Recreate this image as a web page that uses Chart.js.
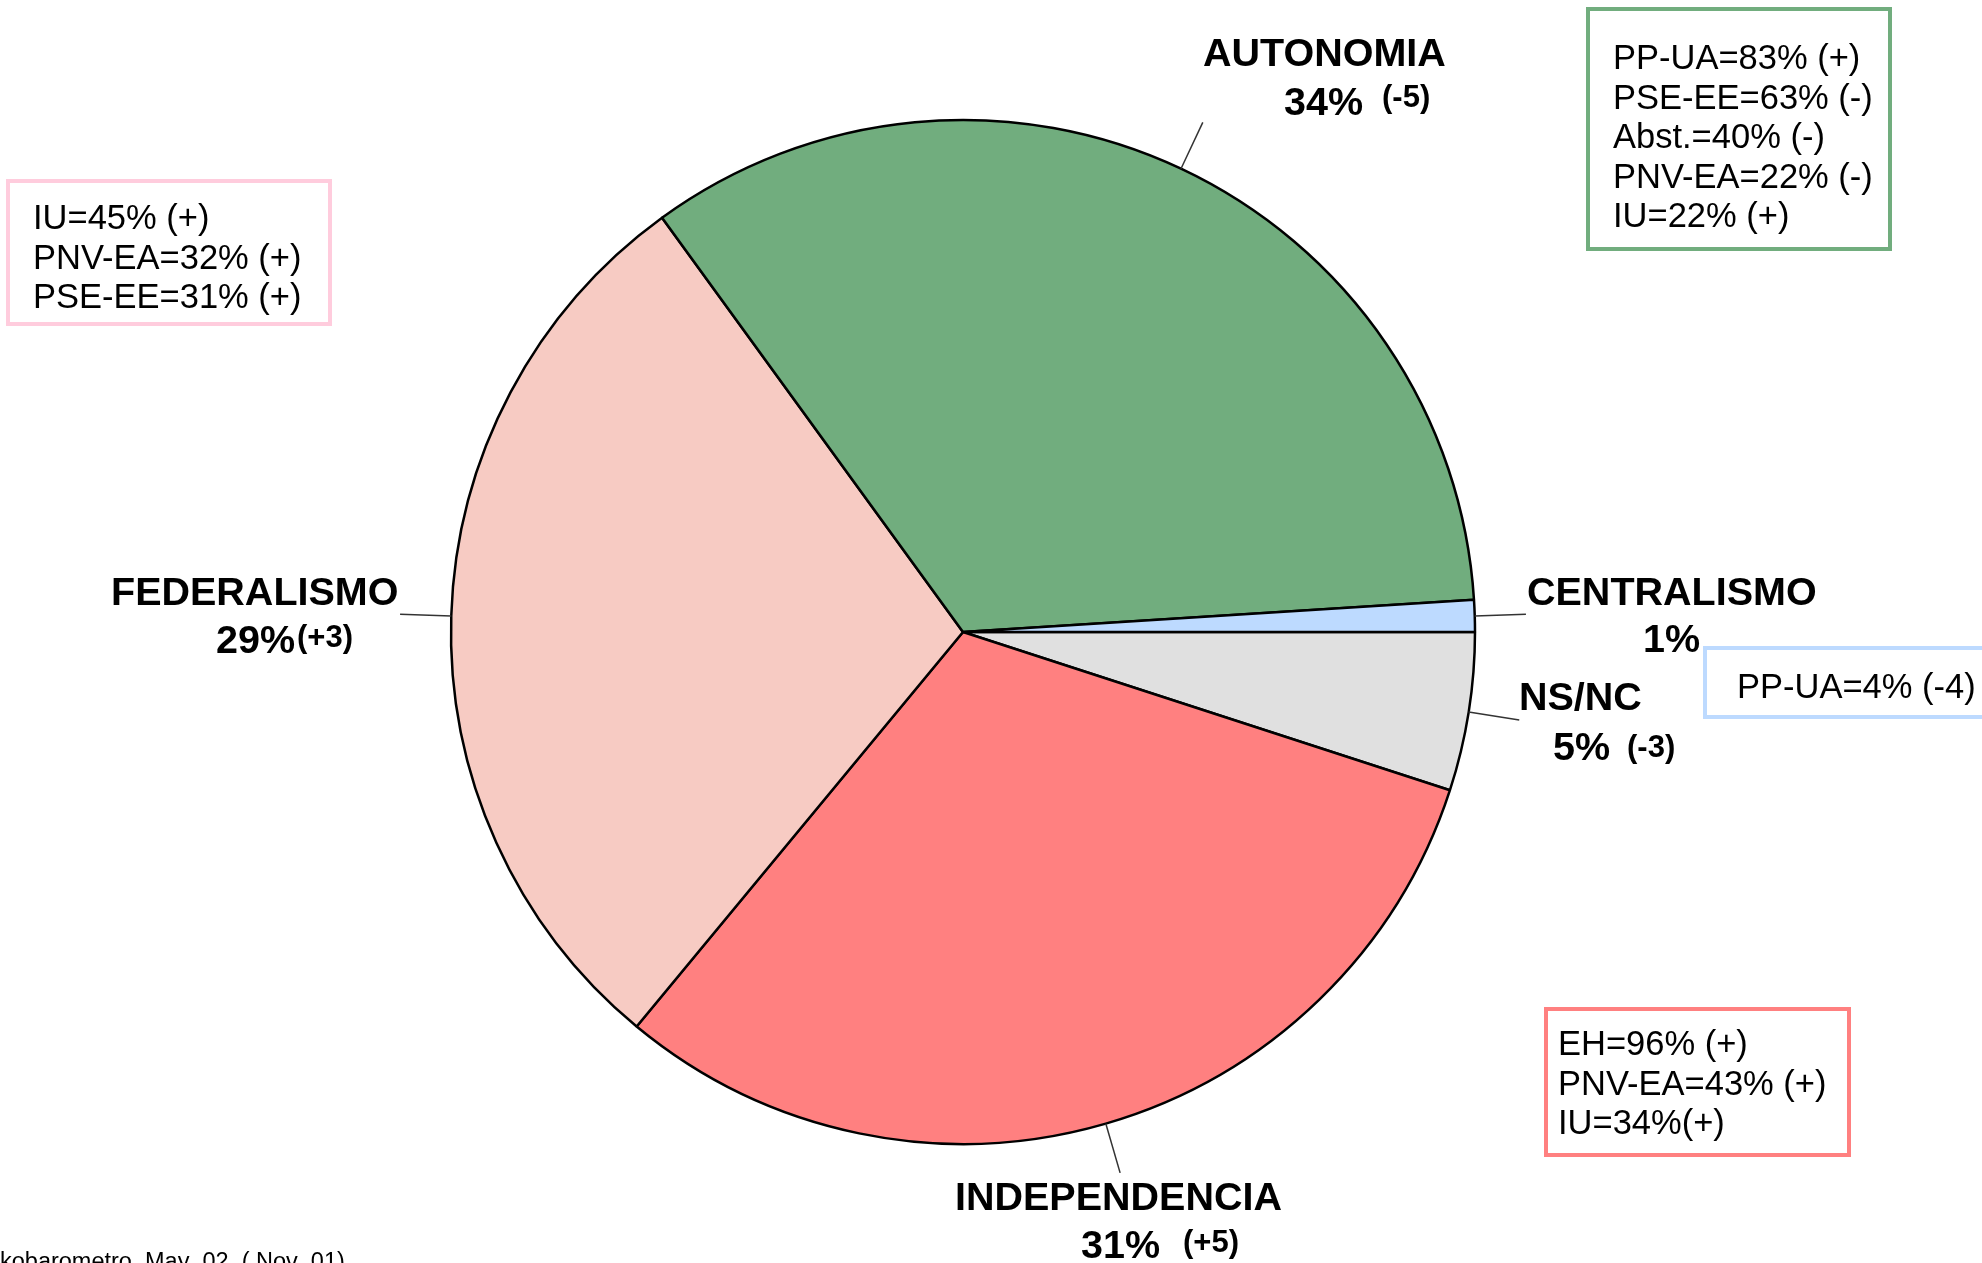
<!DOCTYPE html>
<html>
<head>
<meta charset="utf-8">
<script src="https://cdn.jsdelivr.net/npm/chart.js@4.4.0/dist/chart.umd.min.js"></script>
<style>
  html, body { margin: 0; padding: 0; background: #fff; overflow: hidden; }
  #wrap { width: 1982px; height: 1263px; position: relative; }
</style>
</head>
<body>
<div id="wrap"><canvas id="chart1"></canvas></div>
<script>
// slices, clockwise from 3 o'clock
const categories = ['NS/NC', 'INDEPENDENCIA', 'FEDERALISMO', 'AUTONOMIA', 'CENTRALISMO'];
const percents = [5, 31, 29, 34, 1];
const changes = ['(-3)', '(+5)', '(+3)', '(-5)', ''];
const sliceColors = ['rgb(224,224,224)', 'rgb(255,128,128)', 'rgb(247,203,195)', 'rgb(113,173,126)', 'rgb(189,218,255)'];

// party breakdown boxes
const boxAutonomia = ['PP-UA=83% (+)', 'PSE-EE=63% (-)', 'Abst.=40% (-)', 'PNV-EA=22% (-)', 'IU=22% (+)'];
const boxFederalismo = ['IU=45% (+)', 'PNV-EA=32% (+)', 'PSE-EE=31% (+)'];
const boxIndependencia = ['EH=96% (+)', 'PNV-EA=43% (+)', 'IU=34%(+)'];
const boxCentralismo = ['PP-UA=4% (-4)'];

const sourceNote = 'Ekobarometro  May  02  ( Nov  01)';

// where the slice labels sit (name, percent, change)
const labelPos = [
  { nx: 1519, ny: 710, px: 1553, py: 760, cx: 1627, cy: 757 },
  { nx: 955, ny: 1210, px: 1081, py: 1258, cx: 1183, cy: 1252 },
  { nx: 111, ny: 605, px: 216, py: 653, cx: 297, cy: 647 },
  { nx: 1203, ny: 66, px: 1284, py: 115, cx: 1382, cy: 107 },
  { nx: 1527, ny: 605, px: 1643, py: 652, cx: 0, cy: 0 }
];

// boxes: rect + text start
const boxes = [
  { lines: boxAutonomia, color: 'rgb(113,173,126)', x: 1588, y: 9, w: 302, h: 240, tx: 1613, ty: 69 },
  { lines: boxFederalismo, color: 'rgb(255,204,221)', x: 8, y: 181, w: 322, h: 143, tx: 33, ty: 229 },
  { lines: boxIndependencia, color: 'rgb(255,128,128)', x: 1546, y: 1009, w: 303, h: 146, tx: 1558, ty: 1055 },
  { lines: boxCentralismo, color: 'rgb(189,218,255)', x: 1705, y: 648, w: 300, h: 69, tx: 1737, ty: 698 }
];

const labelsPlugin = {
  id: 'labelsPlugin',
  afterDraw(chart) {
    const ctx = chart.ctx;
    const arcs = chart.getDatasetMeta(0).data;
    ctx.save();

    // leader lines
    ctx.strokeStyle = '#333';
    ctx.lineWidth = 1.5;
    arcs.forEach(arc => {
      const p = arc.getProps(['x', 'y', 'startAngle', 'endAngle', 'outerRadius']);
      const mid = (p.startAngle + p.endAngle) / 2;
      const r1 = p.outerRadius;
      const r2 = p.outerRadius * 1.1;
      ctx.beginPath();
      ctx.moveTo(p.x + Math.cos(mid) * r1, p.y + Math.sin(mid) * r1);
      ctx.lineTo(p.x + Math.cos(mid) * r2, p.y + Math.sin(mid) * r2);
      ctx.stroke();
    });

    // slice labels
    ctx.fillStyle = '#000';
    ctx.textAlign = 'left';
    ctx.textBaseline = 'alphabetic';
    categories.forEach((name, i) => {
      const lp = labelPos[i];
      ctx.font = 'bold 39.5px "Liberation Sans", Arial, sans-serif';
      ctx.fillText(name, lp.nx, lp.ny);
      ctx.fillText(percents[i] + '%', lp.px, lp.py);
      if (changes[i]) {
        ctx.font = 'bold 31px "Liberation Sans", Arial, sans-serif';
        ctx.fillText(changes[i], lp.cx, lp.cy);
      }
    });

    // boxes
    boxes.forEach(b => {
      ctx.fillStyle = '#fff';
      ctx.fillRect(b.x, b.y, b.w, b.h);
      ctx.strokeStyle = b.color;
      ctx.lineWidth = 4;
      ctx.strokeRect(b.x, b.y, b.w, b.h);
      ctx.fillStyle = '#000';
      ctx.font = '34.5px "Liberation Sans", Arial, sans-serif';
      b.lines.forEach((t, j) => {
        ctx.fillText(t, b.tx, b.ty + j * 39.5);
      });
    });

    // source note, cut at the bottom-left edge
    ctx.font = '23.5px "Liberation Sans", Arial, sans-serif';
    const ew = ctx.measureText('E').width;
    ctx.fillText(sourceNote, -ew, 1269);

    ctx.restore();
  }
};

const pie = document.getElementById('chart1').getContext('2d');
const PieChart = new Chart(pie, {
  type: 'pie',
  data: {
    labels: categories,
    datasets: [{
      data: percents,
      backgroundColor: sliceColors,
      borderColor: '#000',
      borderWidth: 2.5
    }]
  },
  options: {
    responsive: true,
    maintainAspectRatio: false,
    animation: false,
    rotation: 90, // start at 3 o'clock
    radius: 512,
    layout: { padding: { left: 0, right: 56, top: 1, bottom: 0 } },
    plugins: {
      legend: { display: false },
      tooltip: { enabled: false },
      title: { display: false }
    }
  },
  plugins: [labelsPlugin]
});
</script>
</body>
</html>
